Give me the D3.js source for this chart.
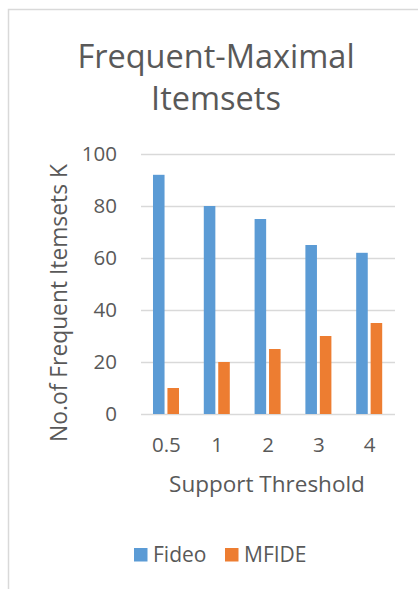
<!DOCTYPE html>
<html>
<head>
<meta charset="utf-8">
<script src="https://cdn.jsdelivr.net/npm/d3@7"></script>
<style>
  html, body { margin: 0; padding: 0; background: #fff; }
  svg { display: block; font-family: "Open Sans", sans-serif; }
</style>
</head>
<body>
<svg id="chart" width="418" height="589"></svg>
<script>
// Support thresholds and itemset counts (thousands)
const thresholds = ["0.5", "1", "2", "3", "4"];
const fideo = [92, 80, 75, 65, 62];
const mfide = [10, 20, 25, 30, 35];
const seriesNames = ["Fideo", "MFIDE"];
const seriesColors = ["#5B9BD5", "#ED7D31"];
const yTicks = [0, 20, 40, 60, 80, 100];

const svg = d3.select("#chart");
const textColor = "#595959";
const gridColor = "#D9D9D9";
const tickFont = 20.5;

// chart area frame
svg.append("rect")
  .attr("x", 8.5).attr("y", 9.5)
  .attr("width", 600).attr("height", 700)
  .attr("fill", "#fff").attr("stroke", gridColor).attr("stroke-width", 1.5);

const plot = { left: 141, right: 395, top: 154, bottom: 414 };

const x = d3.scaleBand().domain(thresholds).range([plot.left, plot.right]).paddingInner(0).paddingOuter(0);
const y = d3.scaleLinear().domain([0, 100]).range([plot.bottom, plot.top]);

// horizontal gridlines with value labels
const yAxis = d3.axisLeft(y).tickValues(yTicks).tickSize(-(plot.right - plot.left)).tickPadding(24);
const gy = svg.append("g").attr("transform", `translate(${plot.left},0)`).call(yAxis);
gy.select(".domain").remove();
gy.selectAll(".tick line").attr("stroke", gridColor).attr("stroke-width", 1.5);
gy.selectAll(".tick text").attr("fill", textColor).attr("font-size", tickFont)
  .attr("font-family", "Open Sans, sans-serif");

// threshold labels under the bars
const xAxis = d3.axisBottom(x).tickSize(0).tickPadding(23.5);
const gx = svg.append("g").attr("transform", `translate(0,${plot.bottom})`).call(xAxis);
gx.select(".domain").remove();
gx.selectAll(".tick text").attr("fill", textColor).attr("font-size", tickFont)
  .attr("font-family", "Open Sans, sans-serif");

// bars: two per threshold inside each band
const bw = x.bandwidth();
const inner = d3.scaleBand().domain(seriesNames).range([bw * 0.236, bw * 0.748]).paddingInner(0.2);
const values = [fideo, mfide];
seriesNames.forEach((name, si) => {
  svg.append("g").selectAll("rect")
    .data(thresholds.map((t, i) => ({ t, v: values[si][i] })))
    .join("rect")
    .attr("x", d => x(d.t) + inner(name))
    .attr("y", d => y(d.v))
    .attr("width", inner.bandwidth())
    .attr("height", d => y(0) - y(d.v))
    .attr("fill", seriesColors[si]);
});

// title
const title = svg.append("text").attr("text-anchor", "middle").attr("fill", textColor)
  .attr("font-size", 32.5);
title.append("tspan").attr("x", 216).attr("y", 68).text("Frequent-Maximal");
title.append("tspan").attr("x", 216).attr("y", 110).text("Itemsets");

// y axis title
svg.append("text")
  .attr("transform", `translate(67,303) rotate(-90)`)
  .attr("text-anchor", "middle").attr("fill", textColor).attr("font-size", 22.8)
  .text("No.of Frequent Itemsets K");

// x axis title
svg.append("text")
  .attr("x", 267).attr("y", 492)
  .attr("text-anchor", "middle").attr("fill", textColor).attr("font-size", 22.5)
  .text("Support Threshold");

// legend
const legend = svg.append("g");
const legendX = [134, 225];
seriesNames.forEach((name, i) => {
  legend.append("rect").attr("x", legendX[i]).attr("y", 548).attr("width", 13.5).attr("height", 13.5)
    .attr("fill", seriesColors[i]);
  legend.append("text").attr("x", legendX[i] + 19).attr("y", 562)
    .attr("fill", textColor).attr("font-size", 21).text(name);
});
</script>
</body>
</html>
